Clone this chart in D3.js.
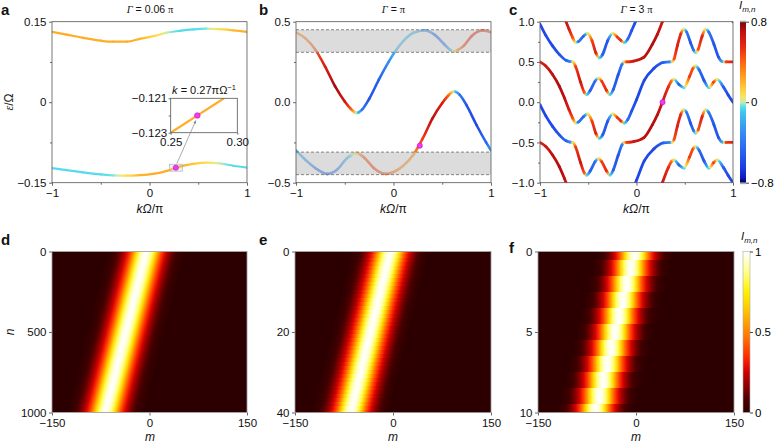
<!DOCTYPE html>
<html>
<head>
<meta charset="utf-8">
<script src="https://cdn.jsdelivr.net/npm/d3@7/dist/d3.min.js"></script>
<style>
  body { margin: 0; background: #fff; }
  svg { font-family: "Liberation Sans", Arial, Helvetica, sans-serif; }
</style>
</head>
<body>
<svg id="fig" width="779" height="444"></svg>
<script>
// ---------- values ----------
// panel a (Γ = 0.06π): k, energy and intensity colour of both bands
const aK      = [-1, -0.85, -0.68, -0.5, -0.37, -0.23, -0.1, 0.04, 0.18, 0.31, 0.45, 0.58, 0.72, 0.86, 1];
const aUpperE = [0.131, 0.126, 0.120, 0.1146, 0.1127, 0.113, 0.118, 0.123, 0.1295, 0.133, 0.1357, 0.137, 0.136, 0.134, 0.131];
const aUpperI = [0.22, 0.22, 0.22, 0.22, 0.22, 0.22, 0.2, 0.1, 0.0, -0.05, -0.05, -0.02, 0.08, 0.18, 0.22];
const aLowerE = [-0.123, -0.1264, -0.1307, -0.1345, -0.1365, -0.137, -0.136, -0.1335, -0.128, -0.120, -0.115, -0.1127, -0.114, -0.1184, -0.122];
const aLowerI = [-0.05, -0.05, -0.05, -0.05, -0.02, 0.08, 0.2, 0.22, 0.22, 0.22, 0.15, 0.08, 0.0, -0.05, -0.05];
const aDot = [0.27, -0.122];
const insetK = [0.25, 0.29];
const insetE = [-0.1230, -0.1210];

// panel b (Γ = π)
const bK1 = [-1, -0.9, -0.8, -0.7, -0.6, -0.5, -0.44, -0.4, -0.38, -0.36, -0.32, -0.25, -0.15, -0.05, 0, 0.1, 0.2, 0.32, 0.42, 0.52, 0.58, 0.62, 0.66, 0.72, 0.8, 0.92, 1];
const bE1 = [0.434, 0.395, 0.325, 0.22, 0.10, 0.005, -0.04, -0.062, -0.068, -0.064, -0.045, 0.02, 0.14, 0.25, 0.30, 0.38, 0.43, 0.445, 0.42, 0.36, 0.325, 0.315, 0.325, 0.35, 0.41, 0.445, 0.434];
const bI1 = [0.28, 0.32, 0.45, 0.62, 0.75, 0.65, 0.45, 0.18, 0.0, -0.15, -0.4, -0.55, -0.5, -0.3, -0.18, -0.1, -0.12, -0.25, -0.45, -0.4, -0.15, 0.08, 0.3, 0.5, 0.55, 0.52, 0.45];
const bK2 = [-1, -0.9, -0.8, -0.68, -0.58, -0.48, -0.42, -0.38, -0.34, -0.3, -0.2, -0.08, 0, 0.1, 0.2, 0.3, 0.4, 0.5, 0.56, 0.6, 0.62, 0.64, 0.68, 0.75, 0.85, 0.95, 1];
const bE2 = [-0.30, -0.36, -0.41, -0.445, -0.42, -0.35, -0.325, -0.315, -0.325, -0.345, -0.41, -0.445, -0.434, -0.395, -0.33, -0.225, -0.10, -0.005, 0.04, 0.062, 0.068, 0.064, 0.045, -0.02, -0.14, -0.25, -0.30];
const bI2 = [-0.15, -0.25, -0.4, -0.45, -0.35, -0.15, 0.0, 0.12, 0.3, 0.45, 0.5, 0.45, 0.35, 0.28, 0.3, 0.5, 0.7, 0.62, 0.42, 0.15, 0.0, -0.15, -0.4, -0.55, -0.6, -0.45, -0.25];
const bGaps = [[0.31, 0.45], [-0.45, -0.31]];
const bDot = [0.27, -0.27];

// panel c (Γ = 3π): two bands, repeated every 1 in ε/Ω (Floquet replicas)
const cKA = [-1, -0.94, -0.87, -0.8, -0.748, -0.7, -0.66, -0.63, -0.6, -0.55, -0.506, -0.46, -0.42, -0.385, -0.35, -0.3, -0.247, -0.2, -0.16, -0.126, -0.09, -0.05, 0, 0.08, 0.18, 0.28, 0.34, 0.37, 0.39, 0.423, 0.46, 0.492, 0.52, 0.56, 0.59, 0.613, 0.64, 0.68, 0.717, 0.75, 0.803, 0.85, 0.889, 0.93, 1];
const cEA = [0.5, 0.45, 0.345, 0.2, 0.056, -0.09, -0.2, -0.26, -0.245, -0.18, -0.145, -0.24, -0.39, -0.45, -0.405, -0.24, -0.145, -0.19, -0.235, -0.26, -0.215, -0.11, 0.03, 0.27, 0.42, 0.495, 0.5, 0.505, 0.54, 0.70, 0.85, 0.907, 0.87, 0.74, 0.65, 0.617, 0.66, 0.82, 0.907, 0.87, 0.718, 0.56, 0.505, 0.5, 0.5];
const cIA = [0.6, 0.65, 0.7, 0.72, 0.7, 0.62, 0.45, 0.05, -0.4, -0.5, 0.05, 0.5, 0.6, -0.05, -0.5, -0.55, 0.05, 0.5, 0.55, -0.05, -0.45, -0.55, -0.6, -0.6, -0.6, -0.5, -0.35, 0.08, 0.45, 0.6, 0.55, 0.05, -0.4, -0.55, -0.45, -0.05, 0.45, 0.6, 0.05, -0.4, -0.55, -0.55, -0.2, 0.5, 0.6];
const cKB = [-1, -0.94, -0.87, -0.8, -0.73, -0.69, -0.66, -0.63, -0.58, -0.54, -0.516, -0.48, -0.43, -0.396, -0.36, -0.31, -0.275, -0.24, -0.19, -0.15, -0.13, -0.1, -0.03, 0.078, 0.164, 0.216, 0.268, 0.33, 0.36, 0.389, 0.44, 0.492, 0.55, 0.585, 0.613, 0.65, 0.70, 0.75, 0.8, 0.837, 0.9, 0.95, 1];
const cEB = [0.97, 0.83, 0.70, 0.594, 0.52, 0.505, 0.5, 0.44, 0.25, 0.12, 0.093, 0.145, 0.26, 0.30, 0.26, 0.145, 0.093, 0.16, 0.34, 0.47, 0.5, 0.5, 0.51, 0.56, 0.718, 0.842, 1.0, 1.19, 1.26, 1.283, 1.22, 1.18, 1.32, 1.42, 1.45, 1.40, 1.27, 1.18, 1.25, 1.283, 1.19, 1.09, 1.0];
const cIB = [-0.6, -0.6, -0.6, -0.55, -0.5, -0.35, 0.08, 0.5, 0.65, 0.45, -0.05, -0.5, -0.45, 0.05, 0.5, 0.55, -0.05, -0.5, -0.55, -0.4, 0.1, 0.5, 0.65, 0.7, 0.72, 0.7, 0.65, 0.55, 0.4, 0.05, -0.5, -0.05, 0.5, 0.45, 0.05, -0.45, -0.55, -0.05, 0.5, 0.05, -0.5, -0.6, -0.6];
const cRepA = [-1, 0, 1];
const cRepB = [-2, -1, 0];
const cDot = [0.27, 0.0];

// panels d-f: beam centre (m) per row n, and the beam's intensity profile
const dRows = [0, 1000];
const dCentre = [-5, -68];
const eCentre = [-4.5, -6, -7.5, -9, -10.5, -12, -13.5, -15, -16.5, -18, -19.5, -21, -22.5, -24, -25.5, -27, -28.5, -30, -31.5, -33, -34.5,
                 -36, -37.5, -39, -40.5, -42, -43.5, -45, -46.5, -48, -49.5, -51, -52.5, -54, -55.5, -57, -58.5, -60, -61.5, -63, -64.5];
const fCentre = [-2, -8, -14, -20, -26, -32, -38, -44, -50, -56, -62];
const profDm = [-60, -55, -50, -45, -40, -35, -30, -25, -20, -15, -10, -5, 0, 5, 10, 15, 20, 25, 30, 35, 40, 45, 50, 55, 60];
const profI  = [0, 0.015, 0.035, 0.07, 0.12, 0.18, 0.26, 0.36, 0.5, 0.68, 0.84, 0.96, 1, 0.96, 0.84, 0.68, 0.5, 0.36, 0.26, 0.18, 0.12, 0.07, 0.035, 0.015, 0];

// ---------- colour maps ----------
const jet = d3.scaleLinear()
  .domain([-0.8, -0.76, -0.65, -0.45, -0.25, -0.1, -0.03, 0, 0.04, 0.12, 0.25, 0.4, 0.55, 0.7, 0.8])
  .range(["#00005a", "#0a1ab4", "#1c3ce6", "#2a6cf0", "#3a98f2", "#40c4f0", "#5ee4ec", "#c8ecb0", "#f2e870", "#ffd23c", "#ffa020", "#ff6410", "#e82814", "#c01010", "#780808"])
  .clamp(true);
const hot = d3.scaleLinear()
  .domain([0, 0.08, 0.16, 0.25, 0.33, 0.45, 0.55, 0.65, 0.75, 0.85, 1])
  .range(["#2c0000", "#4a0000", "#8a0000", "#d00000", "#ff2000", "#ff6a00", "#ff9c00", "#ffcc00", "#fff000", "#ffff70", "#ffffff"])
  .clamp(true);

const svg = d3.select("#fig");
const defs = svg.append("defs");
let gradN = 0;

// top row geometry
const T0 = 21.7, T1 = 182.7, B0 = 251.5, B1 = 412.5;
const xa = d3.scaleLinear().domain([-1, 1]).range([52, 247]);
const ya = d3.scaleLinear().domain([-0.15, 0.15]).range([T1, T0]);
const xb = d3.scaleLinear().domain([-1, 1]).range([296, 491]);
const yb = d3.scaleLinear().domain([-0.5, 0.5]).range([T1, T0]);
const xc = d3.scaleLinear().domain([-1, 1]).range([540, 733]);
const yc = d3.scaleLinear().domain([-1, 1]).range([T1, T0]);

function clipFor(id, x, y) {
  const [x0, x1] = x.range(), r = y.range();
  defs.append("clipPath").attr("id", id).append("rect")
    .attr("x", x0).attr("y", Math.min(...r)).attr("width", x1 - x0).attr("height", Math.abs(r[1] - r[0]));
  return svg.append("g").attr("clip-path", `url(#${id})`);
}

// band drawn as monotone cubic pieces, each stroked with its own colour gradient
function drawBand(g, x, y, ks, es, is, w) {
  const px = ks.map(x), py = es.map(y), n = px.length;
  const h = [], s = [], m = [];
  for (let i = 0; i < n - 1; i++) { h[i] = px[i + 1] - px[i]; s[i] = (py[i + 1] - py[i]) / h[i]; }
  for (let i = 1; i < n - 1; i++) {
    const p = (s[i - 1] * h[i] + s[i] * h[i - 1]) / (h[i - 1] + h[i]);
    m[i] = (Math.sign(s[i - 1]) + Math.sign(s[i])) * Math.min(Math.abs(s[i - 1]), Math.abs(s[i]), 0.5 * Math.abs(p)) || 0;
  }
  m[0] = (3 * s[0] - m[1]) / 2;
  m[n - 1] = (3 * s[n - 2] - m[n - 2]) / 2;
  for (let i = 0; i < n - 1; i++) {
    const id = "seg" + (gradN++);
    const lg = defs.append("linearGradient").attr("id", id).attr("gradientUnits", "userSpaceOnUse")
      .attr("x1", px[i]).attr("y1", py[i]).attr("x2", px[i + 1]).attr("y2", py[i + 1]);
    d3.range(9).forEach(j => {
      const t = j / 8;
      lg.append("stop").attr("offset", t).attr("stop-color", jet(is[i] + t * (is[i + 1] - is[i])));
    });
    const dx = h[i] / 3;
    g.append("path")
      .attr("d", `M${px[i]},${py[i]}C${px[i] + dx},${py[i] + m[i] * dx} ${px[i + 1] - dx},${py[i + 1] - m[i + 1] * dx} ${px[i + 1]},${py[i + 1]}`)
      .attr("fill", "none").attr("stroke", `url(#${id})`)
      .attr("stroke-width", w).attr("stroke-linecap", "round");
  }
}

function dot(g, x, y, p, r) {
  g.append("circle").attr("cx", x(p[0])).attr("cy", y(p[1])).attr("r", r)
    .attr("fill", "#f03cf0").attr("stroke", "#c014c8").attr("stroke-width", 0.6);
}

function axes(x, y, o) {
  const [x0, x1] = x.range(), r = y.range(), y0 = Math.min(...r), y1 = Math.max(...r);
  const g = svg.append("g");
  const fs = o.fs || 11.5;
  g.append("g").attr("transform", `translate(0,${y1})`)
    .call(d3.axisBottom(x).tickValues(o.xt).tickSize(o.ts || 3).tickPadding(o.xpad || 3.5).tickFormat(o.xf));
  g.append("g").attr("transform", `translate(${x0},0)`)
    .call(d3.axisLeft(y).tickValues(o.yt).tickSize(o.ts || 3).tickPadding(o.ypad || 2.5).tickFormat(o.yf));
  if (o.xm) g.append("g").attr("transform", `translate(0,${y1})`).call(d3.axisBottom(x).tickValues(o.xm).tickSize(2).tickFormat(""));
  if (o.ym) g.append("g").attr("transform", `translate(${x0},0)`).call(d3.axisLeft(y).tickValues(o.ym).tickSize(2).tickFormat(""));
  g.selectAll("g").attr("font-size", fs).attr("font-family", null);
  g.selectAll(".domain").remove();
  g.selectAll(".tick line").attr("stroke", "#444").attr("stroke-width", 0.8);
  g.selectAll(".tick text").attr("fill", "#111");
  svg.append("rect").attr("x", x0).attr("y", y0).attr("width", x1 - x0).attr("height", y1 - y0)
    .attr("fill", "none").attr("stroke", o.frame || "#555").attr("stroke-width", 0.8);
}

function label(x, y, parts, o = {}) {
  const t = svg.append("text").attr("x", x).attr("y", y).attr("font-size", o.fs || 12)
    .attr("text-anchor", o.anchor || "middle").attr("fill", "#111");
  if (o.rotate) t.attr("transform", `rotate(-90,${x},${y})`);
  if (o.bold) t.attr("font-weight", "bold");
  parts.forEach(p => {
    const s = t.append("tspan").text(p.t);
    if (p.i) s.attr("font-style", "italic");
    if (p.serif) s.attr("font-family", "'Liberation Serif', 'Times New Roman', serif");
    if (p.fs) s.attr("font-size", p.fs);
    if (p.dy) s.attr("dy", p.dy);
  });
  return t;
}

const fK = d3.format("d"), f1 = d3.format(".1f");

// ---------- panel a ----------
{
  const g = clipFor("clipA", xa, ya);
  drawBand(g, xa, ya, aK, aUpperE, aUpperI, 2.2);
  drawBand(g, xa, ya, aK, aLowerE, aLowerI, 2.2);
  const px = xa(aDot[0]), py = ya(aDot[1]);
  svg.append("rect").attr("x", px - 6.5).attr("y", py - 3.5).attr("width", 13).attr("height", 7)
    .attr("fill", "rgba(210,210,210,0.35)").attr("stroke", "#aaa").attr("stroke-width", 0.6);
  dot(svg, xa, ya, aDot, 2.6);
  axes(xa, ya, { xt: [-1, 0, 1], xm: [-0.5, 0.5], yt: [-0.15, 0, 0.15], ym: [-0.075, 0.075], xf: fK, yf: d => d === 0 ? "0" : d3.format(".2f")(d) });

  // inset
  const xi = d3.scaleLinear().domain([0.25, 0.30]).range([170.7, 237.3]);
  const yi = d3.scaleLinear().domain([-0.123, -0.121]).range([132.7, 98.3]);
  svg.append("rect").attr("x", 170.7).attr("y", 98.3).attr("width", 66.6).attr("height", 34.4).attr("fill", "#fff");
  const gi = clipFor("clipI", xi, yi);
  gi.append("path").attr("d", d3.line().x((d, i) => xi(insetK[i])).y(d => yi(d))(insetE))
    .attr("fill", "none").attr("stroke", jet(0.22)).attr("stroke-width", 2.2);
  dot(svg, xi, yi, aDot, 2.8);
  axes(xi, yi, { xt: [0.25, 0.30], yt: [-0.123, -0.121], ym: [-0.122], xf: d3.format(".2f"), yf: d3.format(".3f"), ts: 2, ypad: 1.5, xpad: 3 });
  label(204, 94, [{ t: "k", i: 1 }, { t: " = 0.27π" }, { t: "Ω" }, { t: "−1", fs: 7.5, dy: -4.5 }], { fs: 11 });

  // arrow from marked region to inset
  defs.append("marker").attr("id", "arr").attr("viewBox", "0 -5 10 10").attr("refX", 9).attr("refY", 0)
    .attr("markerWidth", 5).attr("markerHeight", 5).attr("orient", "auto")
    .append("path").attr("d", "M0,-4L10,0L0,4").attr("fill", "#888");
  svg.append("line").attr("x1", px + 1).attr("y1", py - 4).attr("x2", xi(aDot[0]) - 1.5).attr("y2", yi(aDot[1]) + 5)
    .attr("stroke", "#888").attr("stroke-width", 0.7).attr("marker-end", "url(#arr)");

  label(1, 15, [{ t: "a" }], { anchor: "start", fs: 15, bold: 1 });
  label(150, 13, [{ t: "Γ", i: 1, serif: 1 }, { t: " = 0.06 " }, { t: "π", serif: 1 }], { fs: 10.5 });
  label(150, 213, [{ t: "k", i: 1 }, { t: "Ω", i: 1 }, { t: "/π" }]);
  label(13, 102, [{ t: "ε", i: 1, serif: 1 }, { t: "/Ω" }], { rotate: 1 });
}

// ---------- panel b ----------
{
  const g = clipFor("clipB", xb, yb);
  drawBand(g, xb, yb, bK1, bE1, bI1, 2.6);
  drawBand(g, xb, yb, bK2, bE2, bI2, 2.6);
  bGaps.forEach(([lo, hi]) => {
    g.append("rect").attr("x", xb(-1)).attr("y", yb(hi)).attr("width", xb(1) - xb(-1)).attr("height", yb(lo) - yb(hi))
      .attr("fill", "#c6c6c6").attr("opacity", 0.62);
    [lo, hi].forEach(v => g.append("line").attr("x1", xb(-1)).attr("x2", xb(1)).attr("y1", yb(v)).attr("y2", yb(v))
      .attr("stroke", "#777").attr("stroke-width", 0.9).attr("stroke-dasharray", "3,2"));
  });
  dot(svg, xb, yb, bDot, 2.6);
  axes(xb, yb, { xt: [-1, 0, 1], xm: [-0.5, 0.5], yt: [-0.5, 0, 0.5], ym: [-0.25, 0.25], xf: fK, yf: f1 });
  label(259, 15, [{ t: "b" }], { anchor: "start", fs: 15, bold: 1 });
  label(393.5, 13, [{ t: "Γ", i: 1, serif: 1 }, { t: " = " }, { t: "π", serif: 1 }], { fs: 10.5 });
  label(393.5, 213, [{ t: "k", i: 1 }, { t: "Ω", i: 1 }, { t: "/π" }]);
}

// ---------- panel c ----------
{
  const g = clipFor("clipC", xc, yc);
  const gA = g.append("g").attr("id", "bandA");
  drawBand(gA, xc, yc, cKA, cEA, cIA, 2.8);
  const gB = g.append("g").attr("id", "bandB");
  drawBand(gB, xc, yc, cKB, cEB, cIB, 2.8);
  cRepA.filter(o => o !== 0).forEach(o => g.append("use").attr("href", "#bandA").attr("transform", `translate(0,${yc(o) - yc(0)})`));
  cRepB.filter(o => o !== 0).forEach(o => g.append("use").attr("href", "#bandB").attr("transform", `translate(0,${yc(o) - yc(0)})`));
  dot(svg, xc, yc, cDot, 2.6);
  axes(xc, yc, { xt: [-1, 0, 1], xm: [-0.5, 0.5], yt: [-1, -0.5, 0, 0.5, 1], ym: [-0.75, -0.25, 0.25, 0.75], xf: fK, yf: f1 });
  label(509, 15, [{ t: "c" }], { anchor: "start", fs: 15, bold: 1 });
  label(636.5, 13, [{ t: "Γ", i: 1, serif: 1 }, { t: " = 3 " }, { t: "π", serif: 1 }], { fs: 10.5 });
  label(636.5, 213, [{ t: "k", i: 1 }, { t: "Ω", i: 1 }, { t: "/π" }]);

  // colour bar
  const cb = d3.scaleLinear().domain([-0.8, 0.8]).range([T1, T0]);
  const lg = defs.append("linearGradient").attr("id", "cbJet").attr("x1", 0).attr("y1", 1).attr("x2", 0).attr("y2", 0);
  d3.range(33).forEach(j => lg.append("stop").attr("offset", j / 32).attr("stop-color", jet(-0.8 + 1.6 * j / 32)));
  svg.append("rect").attr("x", 740).attr("y", T0).attr("width", 6).attr("height", T1 - T0).attr("fill", "url(#cbJet)");
  [T0 - 1, T1].forEach(yy => svg.append("rect").attr("x", 740).attr("y", yy).attr("width", 6).attr("height", 1.5).attr("fill", "#a8a8a8"));
  const ca = svg.append("g").attr("transform", "translate(746,0)")
    .call(d3.axisRight(cb).tickValues([-0.8, 0, 0.8]).tickSize(3).tickPadding(2).tickFormat(d => d === 0 ? "0" : f1(d)));
  ca.attr("font-size", 11.5).attr("font-family", null);
  ca.select(".domain").remove();
  ca.selectAll(".tick line").attr("stroke", "#444");
  label(739, 9, [{ t: "I", i: 1 }, { t: "m,n", i: 1, fs: 8, dy: 3 }], { anchor: "start", fs: 11.5 });
}

// ---------- panels d, e, f ----------
function beamStops(lg) {
  profDm.forEach((dm, i) => lg.append("stop")
    .attr("offset", (dm - profDm[0]) / (profDm[profDm.length - 1] - profDm[0]))
    .attr("stop-color", hot(profI[i])));
}
const mLabel = x => label(x, 441, [{ t: "m", i: 1 }]);

{ // d: straight slanted beam over 1000 steps
  const x = d3.scaleLinear().domain([-150, 150]).range([52, 247]);
  const y = d3.scaleLinear().domain([0, 1000]).range([B0, B1]);
  const g = clipFor("clipD", x, y);
  const ang = Math.atan((x(dCentre[1]) - x(dCentre[0])) / (y(dRows[1]) - y(dRows[0]))) * 180 / Math.PI;
  const lg = defs.append("linearGradient").attr("id", "beamD").attr("gradientUnits", "userSpaceOnUse")
    .attr("x1", x(dCentre[0] + profDm[0])).attr("x2", x(dCentre[0] + profDm[profDm.length - 1]))
    .attr("y1", y(0)).attr("y2", y(0))
    .attr("gradientTransform", `translate(0,${y(0)}) skewX(${ang}) translate(0,${-y(0)})`);
  beamStops(lg);
  g.append("rect").attr("x", x(-150)).attr("y", y(0)).attr("width", x(150) - x(-150)).attr("height", y(1000) - y(0))
    .attr("fill", "url(#beamD)");
  axes(x, y, { xt: [-150, 0, 150], yt: [0, 500, 1000], xf: fK, yf: fK, frame: "#999" });
  label(1, 245, [{ t: "d" }], { anchor: "start", fs: 15, bold: 1 });
  mLabel(150);
  label(14, 332, [{ t: "n", i: 1 }], { rotate: 1 });
}

function rowsPanel(id, x, y, centres, nMax) {
  const g = clipFor(id, x, y);
  g.append("rect").attr("x", x(-150)).attr("y", y(0)).attr("width", x(150) - x(-150)).attr("height", y(nMax) - y(0)).attr("fill", hot(0));
  centres.forEach((c, n) => {
    const gid = id + "r" + n;
    const lg = defs.append("linearGradient").attr("id", gid).attr("gradientUnits", "userSpaceOnUse")
      .attr("x1", x(c + profDm[0])).attr("x2", x(c + profDm[profDm.length - 1])).attr("y1", 0).attr("y2", 0);
    beamStops(lg);
    const ya0 = y(Math.max(0, n - 0.5)), ya1 = y(Math.min(nMax, n + 0.5));
    g.append("rect").attr("x", x(-150)).attr("y", ya0).attr("width", x(150) - x(-150)).attr("height", ya1 - ya0 + 1)
      .attr("fill", `url(#${gid})`).attr("shape-rendering", "crispEdges");
  });
}

{ // e
  const x = d3.scaleLinear().domain([-150, 150]).range([295, 491]);
  const y = d3.scaleLinear().domain([0, 40]).range([B0, B1]);
  rowsPanel("clipE", x, y, eCentre, 40);
  axes(x, y, { xt: [-150, 0, 150], yt: [0, 20, 40], xf: fK, yf: fK, frame: "#999" });
  label(259, 245, [{ t: "e" }], { anchor: "start", fs: 15, bold: 1 });
  mLabel(393);
}

{ // f
  const x = d3.scaleLinear().domain([-150, 150]).range([538, 734]);
  const y = d3.scaleLinear().domain([0, 10]).range([B0, B1]);
  rowsPanel("clipF", x, y, fCentre, 10);
  axes(x, y, { xt: [-150, 0, 150], yt: [0, 5, 10], xf: fK, yf: fK, frame: "#999" });
  label(509, 253, [{ t: "f" }], { anchor: "start", fs: 15, bold: 1 });
  mLabel(636);

  const cb = d3.scaleLinear().domain([0, 1]).range([B1, B0]);
  const lg = defs.append("linearGradient").attr("id", "cbHot").attr("x1", 0).attr("y1", 1).attr("x2", 0).attr("y2", 0);
  d3.range(33).forEach(j => lg.append("stop").attr("offset", j / 32).attr("stop-color", hot(j / 32)));
  svg.append("rect").attr("x", 743).attr("y", B0).attr("width", 7).attr("height", B1 - B0)
    .attr("fill", "url(#cbHot)").attr("stroke", "#aaa").attr("stroke-width", 0.6);
  const ca = svg.append("g").attr("transform", "translate(750,0)")
    .call(d3.axisRight(cb).tickValues([0, 0.5, 1]).tickSize(3).tickPadding(2).tickFormat(d => d === 0.5 ? "0.5" : fK(d)));
  ca.attr("font-size", 11.5).attr("font-family", null);
  ca.select(".domain").remove();
  ca.selectAll(".tick line").attr("stroke", "#444");
  label(741, 240, [{ t: "I", i: 1 }, { t: "m,n", i: 1, fs: 8, dy: 3 }], { anchor: "start", fs: 11.5 });
}
</script>
</body>
</html>
